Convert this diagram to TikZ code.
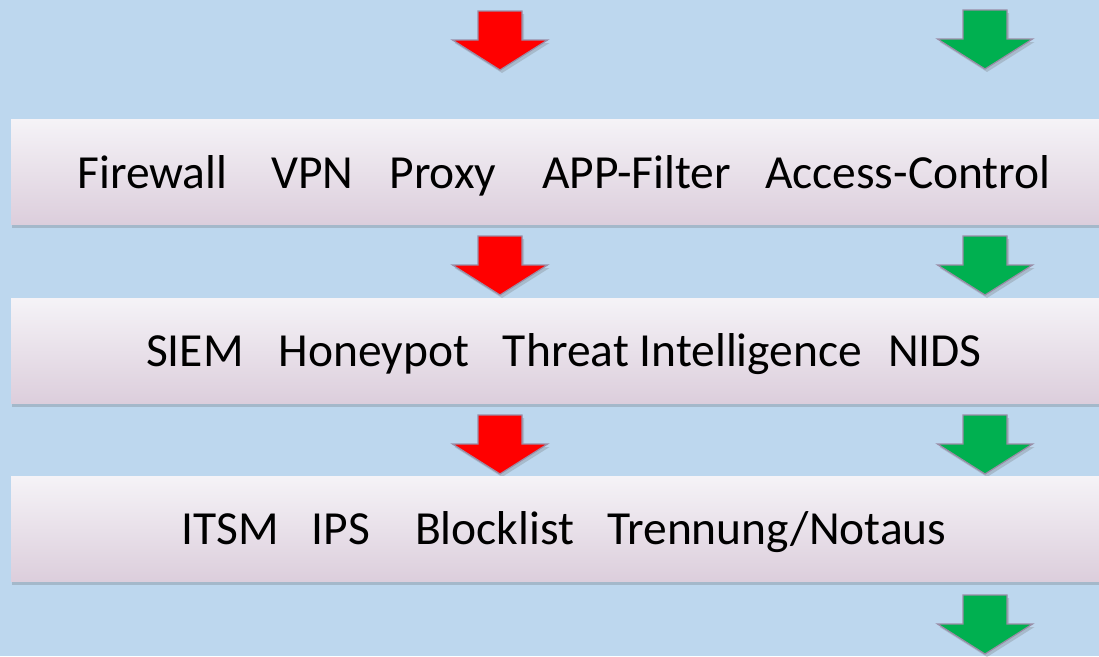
\documentclass[tikz,border=0pt]{standalone}
\usepackage{fontspec}
\setmainfont{Carlito}
\usetikzlibrary{shadows}
\definecolor{bgblue}{HTML}{BDD7EE}
\definecolor{boxtop}{HTML}{F5F3F7}
\definecolor{boxbot}{HTML}{DCCEDC}
\definecolor{arrowline}{HTML}{9A8CA6}
\definecolor{arrred}{HTML}{FF0000}
\definecolor{arrgreen}{HTML}{00B050}
\tikzset{
  layerbox/.style={draw=none, top color=boxtop, bottom color=boxbot,
    minimum width=1106pt, minimum height=105pt, inner sep=0pt,
    font=\fontsize{47.5}{56}\selectfont, text=black,
    drop shadow={shadow xshift=1pt, shadow yshift=-4pt, opacity=0.22, fill=black!70}},
  flowarrow/.style={draw=arrowline, line width=1.2pt, line join=miter,
    drop shadow={shadow xshift=2pt, shadow yshift=-3pt, opacity=0.25, fill=black!60}},
  pics/downarrow/.style={code={
    \path[flowarrow, fill=#1] (-22,0) -- (22,0) -- (22,29) -- (47.5,29) -- (0,59)
      -- (-47.5,29) -- (-22,29) -- cycle;
  }}
}
\newcommand{\lowered}[1]{\raisebox{-4pt}[\height][\depth]{#1}}
\begin{document}
\begin{tikzpicture}[x=1pt, y=-1pt]
\useasboundingbox (0,0) rectangle (1099,656);
\fill[bgblue] (0,0) rectangle (1099,656);
\clip (0,0) rectangle (1099,656);
% arrows
\pic at (500,11) {downarrow=arrred};
\pic at (985,10) {downarrow=arrgreen};
% layers
\node[layerbox] (layer1) at (564,171.5) {\lowered{Firewall\hspace{44pt}VPN\hspace{36pt}Proxy\hspace{46pt}APP-Filter\hspace{34pt}Access-Control}};
\pic at (500,236) {downarrow=arrred};
\pic at (985,236) {downarrow=arrgreen};
\node[layerbox] (layer2) at (564,350.5) {\lowered{SIEM\hspace{35pt}Honeypot\hspace{34pt}Threat Intelligence\hspace{26pt}NIDS}};
\pic at (500,415) {downarrow=arrred};
\pic at (985,415) {downarrow=arrgreen};
\node[layerbox] (layer3) at (564,528.5) {\lowered{ITSM\hspace{33pt}IPS\hspace{45pt}Blocklist\hspace{33pt}Trennung/Notaus}};
\pic at (985,595) {downarrow=arrgreen};
\end{tikzpicture}
\end{document}
